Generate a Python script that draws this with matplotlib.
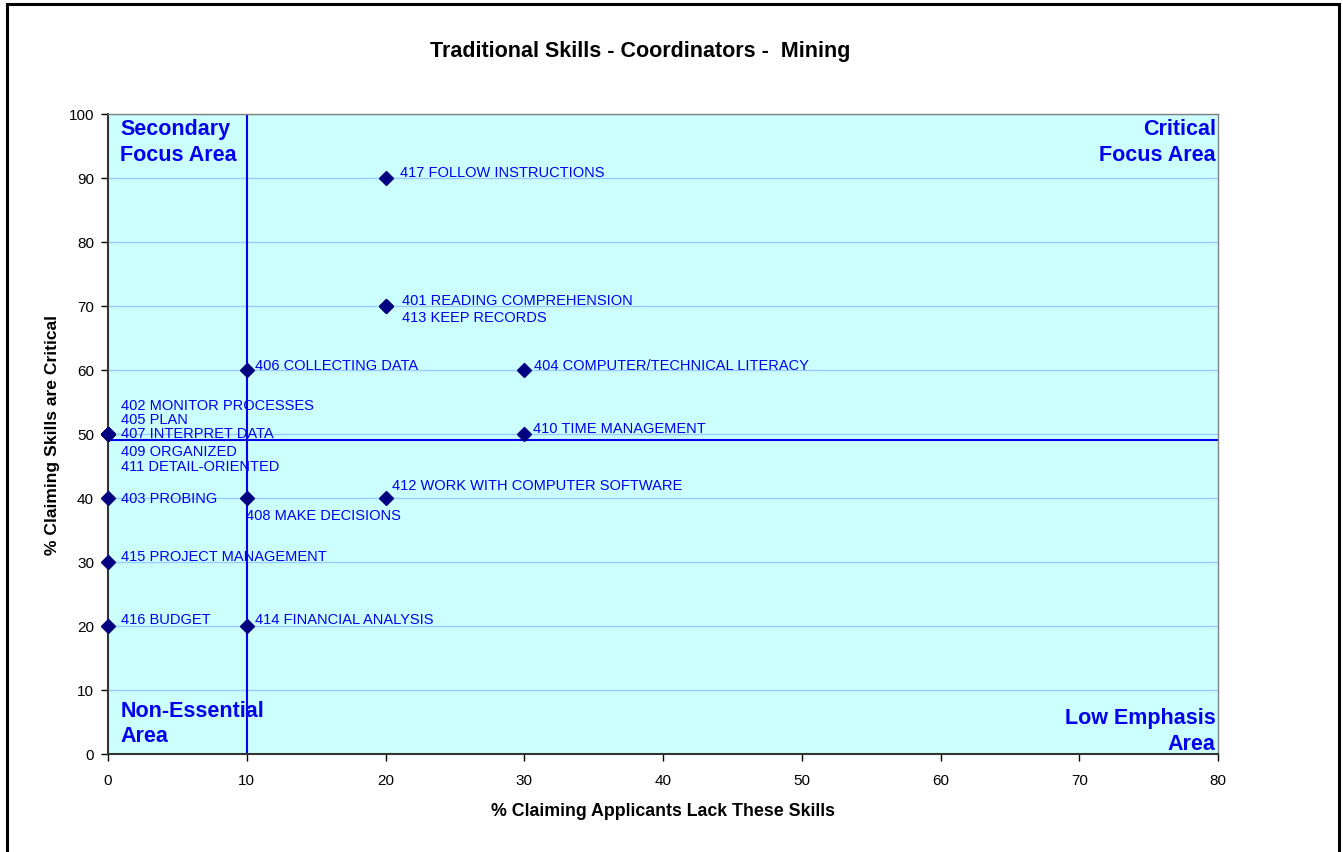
import matplotlib
matplotlib.use("Agg")
import matplotlib.pyplot as plt
from matplotlib.patches import Rectangle

plt.rcParams['font.family'] = ['Liberation Sans', 'DejaVu Sans']

# skill codes / names and their survey percentages
skills = ["417 FOLLOW INSTRUCTIONS", "401 READING COMPREHENSION", "413 KEEP RECORDS",
          "406 COLLECTING DATA", "404 COMPUTER/TECHNICAL LITERACY",
          "402 MONITOR PROCESSES", "405 PLAN", "407 INTERPRET DATA", "409 ORGANIZED",
          "411 DETAIL-ORIENTED", "410 TIME MANAGEMENT", "412 WORK WITH COMPUTER SOFTWARE",
          "403 PROBING", "408 MAKE DECISIONS", "415 PROJECT MANAGEMENT", "416 BUDGET",
          "414 FINANCIAL ANALYSIS"]
lack_pct = [20, 20, 20, 10, 30, 0, 0, 0, 0, 0, 30, 20, 0, 10, 0, 0, 10]
critical_pct = [90, 70, 70, 60, 60, 50, 50, 50, 50, 50, 50, 40, 40, 40, 30, 20, 20]

lack_mean = 10
critical_mean = 49

# label offsets from the marker, in pixels (right, up)
offsets_px = {
    "417 FOLLOW INSTRUCTIONS": (14, 6),
    "401 READING COMPREHENSION": (17, 6),
    "413 KEEP RECORDS": (17, -11),
    "406 COLLECTING DATA": (8, 5),
    "404 COMPUTER/TECHNICAL LITERACY": (10, 5),
    "402 MONITOR PROCESSES": (13, 29),
    "405 PLAN": (13, 15),
    "407 INTERPRET DATA": (13, 1),
    "409 ORGANIZED": (13, -17),
    "411 DETAIL-ORIENTED": (13, -32),
    "410 TIME MANAGEMENT": (9, 6),
    "412 WORK WITH COMPUTER SOFTWARE": (6, 13),
    "403 PROBING": (13, 0),
    "408 MAKE DECISIONS": (-1, -17),
    "415 PROJECT MANAGEMENT": (13, 6),
    "416 BUDGET": (13, 7),
    "414 FINANCIAL ANALYSIS": (8, 7),
}

fig = plt.figure(figsize=(13.43, 8.53), dpi=100)
ax = fig.add_axes([108 / 1343, 1 - 755 / 853, 1110 / 1343, 640 / 853])
ax.set_facecolor("#CCFFFF")

ax.set_xlim(0, 80)
ax.set_ylim(0, 100)
ax.set_xticks(range(0, 81, 10))
ax.set_yticks(range(0, 101, 10))
ax.yaxis.grid(True, color="#99CCFF", linewidth=1)
ax.set_axisbelow(True)
ax.tick_params(direction="out", length=5, labelsize=11, colors="black", width=1)
ax.tick_params(axis="x", pad=9)
ax.tick_params(axis="y", pad=5)

for side in ("top", "right"):
    ax.spines[side].set_color("#808080")
    ax.spines[side].set_linewidth(1)
for side in ("left", "bottom"):
    ax.spines[side].set_color("#333333")
    ax.spines[side].set_linewidth(1.5)

# quadrant dividers
ax.axvline(lack_mean, color="#0000EE", linewidth=1.5, zorder=2)
ax.axhline(critical_mean, color="#0000EE", linewidth=1.5, zorder=2)

ax.plot(lack_pct, critical_pct, linestyle="none", marker="D", markersize=7,
        color="#000080", zorder=4, clip_on=False)

for name, x, y in zip(skills, lack_pct, critical_pct):
    dx, dy = offsets_px[name]
    ax.annotate(name, (x, y), xytext=(dx * 0.72, dy * 0.72), textcoords="offset points",
                ha="left", va="center", fontsize=10.5, color="#0000EE", zorder=5)

quad_kw = dict(fontsize=15.5, fontweight="bold", color="#0000EE", transform=ax.transAxes,
               linespacing=1.3)
ax.text(0.011, 0.993, "Secondary\nFocus Area", ha="left", va="top", **quad_kw)
ax.text(0.998, 0.993, "Critical\nFocus Area", ha="right", va="top", **quad_kw)
ax.text(0.011, 0.012, "Non-Essential\nArea", ha="left", va="bottom", **quad_kw)
ax.text(0.998, 0.0, "Low Emphasis\nArea", ha="right", va="bottom", **quad_kw)

ax.set_xlabel("% Claiming Applicants Lack These Skills", fontsize=12.8, fontweight="bold")
ax.set_ylabel("% Claiming Skills are Critical", fontsize=12.6, fontweight="bold")
ax.xaxis.set_label_coords(0.5, (755 - 812) / 640)
ax.yaxis.set_label_coords((53 - 108) / 1110, 0.5)
ax.xaxis.label.set_va("center")
ax.yaxis.label.set_va("center")
fig.text(640 / 1343, 1 - 52 / 853, "Traditional Skills - Coordinators -  Mining",
         ha="center", va="center", fontsize=15.5, fontweight="bold")

# outer chart frame
fig.patches.append(Rectangle((7 / 1343, -0.05), 1332 / 1343, 1 - 5 / 853 + 0.05,
                             transform=fig.transFigure, fill=False, edgecolor="black",
                             linewidth=2.2))

fig.savefig("out.png", dpi=100)
